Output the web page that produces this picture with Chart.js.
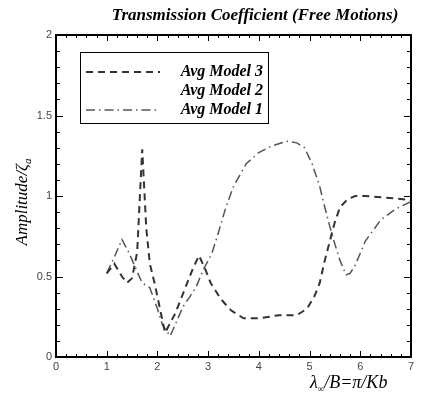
<!DOCTYPE html>
<html>
<head>
<meta charset="utf-8">
<script src="https://cdn.jsdelivr.net/npm/chart.js@4.4.1/dist/chart.umd.min.js"></script>
<style>
  html, body { margin: 0; padding: 0; background: #fff; }
  #wrap { width: 433px; height: 400px; }
</style>
</head>
<body>
<div id="wrap"><canvas id="canvas" width="433" height="400"></canvas></div>
<script>
// values
var model3X = [1.0, 1.15, 1.3, 1.4, 1.5, 1.6, 1.7, 1.78, 1.85, 1.95, 2.05, 2.15, 2.35, 2.55, 2.7, 2.82, 2.95, 3.05, 3.25, 3.45, 3.7, 4.0, 4.4, 4.75, 4.95, 5.1, 5.2, 5.3, 5.4, 5.5, 5.6, 5.75, 5.9, 6.1, 6.5, 7.0];
var model3Y = [0.52, 0.58, 0.5, 0.46, 0.49, 0.65, 1.29, 0.8, 0.58, 0.45, 0.3, 0.15, 0.27, 0.43, 0.55, 0.63, 0.54, 0.46, 0.36, 0.29, 0.24, 0.24, 0.26, 0.26, 0.3, 0.38, 0.46, 0.6, 0.72, 0.84, 0.93, 0.98, 1.0, 1.0, 0.99, 0.975];

var model2X = [];
var model2Y = [];

var model1X = [1.0, 1.15, 1.3, 1.45, 1.6, 1.7, 1.85, 2.0, 2.1, 2.25, 2.35, 2.5, 2.65, 2.77, 2.9, 3.07, 3.2, 3.35, 3.5, 3.75, 4.0, 4.25, 4.55, 4.75, 4.9, 5.05, 5.2, 5.3, 5.4, 5.5, 5.6, 5.72, 5.8, 5.9, 6.1, 6.4, 6.7, 7.0];
var model1Y = [0.52, 0.62, 0.73, 0.64, 0.53, 0.46, 0.43, 0.3, 0.2, 0.13, 0.2, 0.31, 0.38, 0.44, 0.54, 0.64, 0.77, 0.93, 1.06, 1.2, 1.27, 1.31, 1.34, 1.33, 1.3, 1.2, 1.06, 0.93, 0.81, 0.7, 0.6, 0.51, 0.52, 0.57, 0.72, 0.85, 0.92, 0.965];

var seriesLabels = ['Avg Model 3', 'Avg Model 2', 'Avg Model 1'];
var xTickLabels = ['0', '1', '2', '3', '4', '5', '6', '7'];
var yTickLabels = ['0', '0.5', '1', '1.5', '2'];

function pairs(xs, ys) {
    var out = [];
    for (var i = 0; i < xs.length; i++) out.push({ x: xs[i], y: ys[i] });
    return out;
}

var serif = '"Liberation Serif", "DejaVu Serif", serif';
var sans = '"Liberation Sans", Arial, sans-serif';

// inward tick marks on all four sides, plus the frame
var frameTicks = {
    id: 'frameTicks',
    afterDraw: function(chart) {
        var ctx = chart.ctx, a = chart.chartArea;
        var xs = chart.scales.x, ys = chart.scales.y;
        ctx.save();
        ctx.strokeStyle = '#000';
        ctx.lineWidth = 1;
        for (var i = 0; i <= 35; i++) {
            var v = i * 0.2;
            var px = Math.round(xs.getPixelForValue(v)) + 0.5;
            var len = (i % 5 === 0) ? 6 : 3;
            ctx.beginPath();
            ctx.moveTo(px, a.bottom); ctx.lineTo(px, a.bottom - len);
            ctx.moveTo(px, a.top); ctx.lineTo(px, a.top + len);
            ctx.stroke();
        }
        for (var j = 0; j <= 20; j++) {
            var w = j * 0.1;
            var py = Math.round(ys.getPixelForValue(w)) + 0.5;
            var ln = (j % 5 === 0) ? 7 : 4;
            ctx.beginPath();
            ctx.moveTo(a.left, py); ctx.lineTo(a.left + ln, py);
            ctx.moveTo(a.right, py); ctx.lineTo(a.right - ln, py);
            ctx.stroke();
        }
        ctx.lineWidth = 2;
        ctx.strokeRect(a.left, a.top, a.right - a.left, a.bottom - a.top);
        ctx.restore();
    }
};

// legend box inside the plot, title and axis titles
var annotations = {
    id: 'annotations',
    afterDraw: function(chart) {
        var ctx = chart.ctx, a = chart.chartArea;
        ctx.save();
        // title
        ctx.fillStyle = '#000';
        ctx.font = 'italic bold 17px ' + serif;
        ctx.textAlign = 'center';
        ctx.textBaseline = 'middle';
        ctx.fillText('Transmission Coefficient (Free Motions)', 255, 16);

        // legend
        ctx.lineWidth = 1;
        ctx.strokeStyle = '#000';
        ctx.strokeRect(80.5, 52.5, 188, 71);
        var rows = [72, 91, 110];
        ctx.font = 'italic bold 16px ' + serif;
        ctx.textAlign = 'right';
        chart.data.datasets.forEach(function(ds, k) {
            var y = rows[k];
            if (ds.data.length) {
                ctx.save();
                ctx.strokeStyle = ds.borderColor;
                ctx.lineWidth = ds.borderWidth;
                ctx.setLineDash(ds.borderDash);
                ctx.beginPath();
                ctx.moveTo(86, y); ctx.lineTo(160, y);
                ctx.stroke();
                ctx.restore();
            }
            ctx.fillStyle = '#000';
            ctx.fillText(ds.label, 263, y);
        });

        // y axis title
        ctx.save();
        ctx.translate(23, 202);
        ctx.rotate(-Math.PI / 2);
        ctx.font = 'italic 17px ' + serif;
        ctx.textAlign = 'left';
        var t1 = 'Amplitude/ζ';
        var w1 = ctx.measureText(t1).width;
        ctx.font = 'italic 11px ' + serif;
        var w2 = ctx.measureText('a').width;
        var x0 = -(w1 + w2) / 2;
        ctx.font = 'italic 17px ' + serif;
        ctx.fillText(t1, x0, 0);
        ctx.font = 'italic 11px ' + serif;
        ctx.fillText('a', x0 + w1, 5);
        ctx.restore();

        // x axis title
        ctx.textAlign = 'left';
        ctx.font = 'italic 18px ' + serif;
        var xt = 310, yt = 383;
        ctx.fillText('λ', xt, yt);
        var lw = ctx.measureText('λ').width;
        ctx.font = 'italic 9px ' + serif;
        ctx.fillText('∞', xt + lw, yt + 7);
        var iw = ctx.measureText('∞').width;
        ctx.font = 'italic 18px ' + serif;
        ctx.fillText('/B=π/Kb', xt + lw + iw, yt);
        ctx.restore();
    }
};

var config = {
    type: 'scatter',
    data: {
        datasets: [{
                label: seriesLabels[0],
                data: pairs(model3X, model3Y),
                showLine: true,
                borderColor: '#333',
                borderWidth: 2,
                borderDash: [7, 5],
                pointRadius: 0,
                tension: 0
            },
            {
                label: seriesLabels[1],
                data: pairs(model2X, model2Y),
                showLine: true,
                borderColor: '#333',
                borderWidth: 1,
                borderDash: [],
                pointRadius: 0
            },
            {
                label: seriesLabels[2],
                data: pairs(model1X, model1Y),
                showLine: true,
                borderColor: '#555',
                borderWidth: 1.5,
                borderDash: [9, 4, 1.5, 4],
                pointRadius: 0,
                tension: 0
            }
        ]
    },
    options: {
        responsive: false,
        animation: false,
        layout: { padding: { top: 35, right: 22, left: 0, bottom: 0 } },
        plugins: {
            legend: { display: false },
            title: { display: false },
            tooltip: { enabled: false }
        },
        scales: {
            x: {
                type: 'linear',
                min: 0,
                max: 7,
                grid: { display: false, drawTicks: false },
                border: { display: false },
                afterFit: function(s) { s.height = 43; },
                ticks: {
                    stepSize: 1,
                    padding: 3,
                    color: '#444',
                    font: { family: sans, size: 11 },
                    callback: function(v) { return xTickLabels[v]; }
                }
            },
            y: {
                type: 'linear',
                min: 0,
                max: 2,
                grid: { display: false, drawTicks: false },
                border: { display: false },
                afterFit: function(s) { s.width = 56; },
                ticks: {
                    stepSize: 0.5,
                    padding: 4,
                    color: '#444',
                    font: { family: sans, size: 11 },
                    callback: function(v) { return yTickLabels[Math.round(v * 2)]; }
                }
            }
        }
    },
    plugins: [frameTicks, annotations]
};

window.addEventListener('load', function() {
    var ctx = document.getElementById('canvas').getContext('2d');
    window.TransChart = new Chart(ctx, config);
});
</script>
</body>
</html>
